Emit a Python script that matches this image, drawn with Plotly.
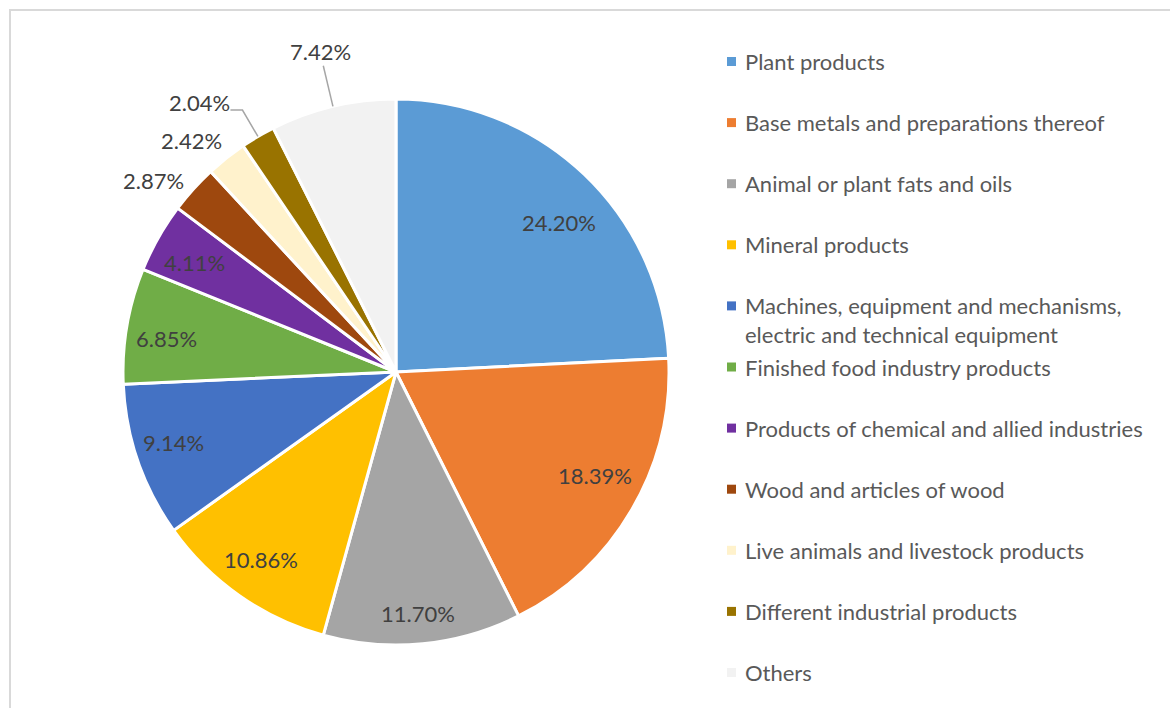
import math
import plotly.graph_objects as go

# ---- data ----
categories = [
    "Plant products",
    "Base metals and preparations thereof",
    "Animal or plant fats and oils",
    "Mineral products",
    "Machines, equipment and mechanisms,<br>electric and technical equipment",
    "Finished food industry products",
    "Products of chemical and allied industries",
    "Wood and articles of wood",
    "Live animals and livestock products",
    "Different industrial products",
    "Others",
]
values = [24.20, 18.39, 11.70, 10.86, 9.14, 6.85, 4.11, 2.87, 2.42, 2.04, 7.42]
colors = ["#5B9BD5", "#ED7D31", "#A5A5A5", "#FFC000", "#4472C4", "#70AD47",
          "#7030A0", "#9E480E", "#FFF2CC", "#997300", "#F2F2F2"]

# ---- layout (style) ----
W, H = 1170, 708
CX, CY, R = 396, 372, 273
FONT = "Lato"
FS = 22
label_r = [0.809, 0.82, 0.887, 0.845, 0.855, 0.851, 0.841, 1.13, 1.13, 1.22, 1.205]
label_dtheta = [4.0, -2.8, 0.3, 0.8, 1.3, -1.6, -1.1, -3.8, -3.0, -5.7, 0]
leader = {9: (1.112, 248 - 236), 10: (1.153, None)}


def px(x):
    return x / W


def py(y):
    return 1 - y / H


fig = go.Figure()
fig.add_trace(go.Pie(
    labels=[c.replace("<br>", " ") for c in categories],
    values=values,
    sort=False,
    direction="clockwise",
    rotation=0,
    marker=dict(colors=colors, line=dict(color="white", width=3)),
    textinfo="none",
    hoverinfo="label+percent",
    showlegend=False,
    domain=dict(x=[px(CX - R), px(CX + R)], y=[py(CY + R), py(CY - R)]),
))

total = sum(values)
annotations = []
shapes = []

# border
shapes.append(dict(type="rect", xref="paper", yref="paper",
                   x0=px(10), y0=py(H + 20), x1=px(W + 20), y1=py(10),
                   line=dict(color="#D9D9D9", width=2), fillcolor="rgba(0,0,0,0)"))

cum = 0.0
for i, v in enumerate(values):
    mid = (cum + v / 2) / total
    cum += v
    th = 2 * math.pi * mid
    thl = th + math.radians(label_dtheta[i])
    rr = R * label_r[i]
    lx = CX + rr * math.sin(thl)
    ly = CY - rr * math.cos(thl)
    annotations.append(dict(
        x=px(lx), y=py(ly), xref="paper", yref="paper",
        text=f"{v:.2f}%", showarrow=False, xanchor="center", yanchor="middle",
        font=dict(family=FONT, size=FS, color="#404040"),
    ))
    if i in leader:
        re_, hseg = leader[i]
        x0 = CX + R * math.sin(th)
        y0 = CY - R * math.cos(th)
        x1 = CX + R * re_ * math.sin(th)
        y1 = CY - R * re_ * math.cos(th)
        path = f"M {px(x0)},{py(y0)} L {px(x1)},{py(y1)}"
        if hseg:
            path += f" L {px(x1 - hseg)},{py(y1)}"
        shapes.append(dict(type="path", xref="paper", yref="paper", path=path,
                           line=dict(color="#A6A6A6", width=1.5)))

# legend (manual, Excel-like spacing)
LEG_X, LEG_Y0, LEG_DY, SQ = 727, 61.5, 61.1, 9
for i, (cat, col) in enumerate(zip(categories, colors)):
    yc = LEG_Y0 + LEG_DY * i
    shapes.append(dict(type="rect", xref="paper", yref="paper",
                       x0=px(LEG_X), x1=px(LEG_X + SQ),
                       y0=py(yc + SQ / 2), y1=py(yc - SQ / 2),
                       fillcolor=col, line=dict(width=0)))
    nlines = cat.count("<br>") + 1
    ty = yc + (nlines - 1) * 29 / 2
    annotations.append(dict(
        x=px(743), y=py(ty), xref="paper", yref="paper", text=cat,
        showarrow=False, xanchor="left", yanchor="middle", align="left",
        font=dict(family=FONT, size=FS, color="#595959"),
    ))

fig.update_layout(
    width=W, height=H,
    margin=dict(l=0, r=0, t=0, b=0),
    paper_bgcolor="white", plot_bgcolor="white",
    annotations=annotations, shapes=shapes,
    showlegend=False,
)
fig.write_html("out.html",
               config={"displayModeBar": False},
               post_script="document.body.style.margin='0';document.body.style.overflow='hidden';")
